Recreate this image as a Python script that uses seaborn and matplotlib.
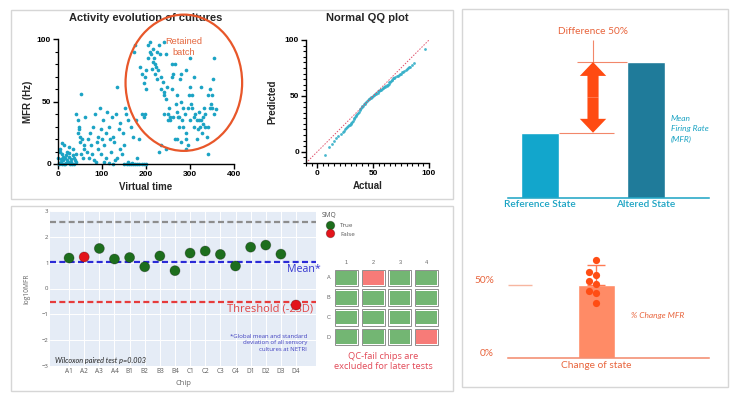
import numpy as np
import pandas as pd
import matplotlib
matplotlib.use("Agg")
import matplotlib.pyplot as plt
import seaborn as sns
from matplotlib.patches import Rectangle, Ellipse, FancyArrowPatch
from matplotlib.colors import ListedColormap
from matplotlib.ticker import MultipleLocator
from matplotlib.transforms import ScaledTranslation, blended_transform_factory

# ---------------------------------------------------------------- data
# Activity evolution of cultures (virtual time vs MFR in Hz)
virtual_time = [
    2, 4, 5, 6, 8, 10, 12, 14, 15, 18, 20, 22, 24, 25, 28, 30, 32, 35, 38, 40, 42, 3, 9, 16, 27, 36,
    1, 7, 11, 13, 19, 21, 26, 29, 33, 37,
    42, 45, 47, 48, 50, 52, 55, 58, 60, 45, 50, 53, 57,
    62, 65, 68, 70, 72, 75, 78, 80, 82, 85, 88, 90, 92, 95, 98, 100, 97, 86,
    102, 105, 108, 110, 112, 115, 118, 120, 122, 125, 128, 130, 132, 135, 138, 140, 142, 145, 148, 150, 105, 115, 125, 135,
    152, 155, 158, 160, 162, 165, 168, 170, 172, 175, 178, 180, 185, 190, 195, 198, 200, 165, 175, 185, 190, 195, 150, 157, 170, 180,
    186, 190, 195, 198, 200, 205, 205, 208, 210, 212, 215, 218, 220, 222, 225, 228, 230, 232, 235, 238, 240, 213, 220, 225, 200, 215, 235,
    240, 242, 245, 248, 250, 252, 255, 258, 260, 262, 265, 268, 270, 272, 275, 278, 280, 282, 285, 288,
    290, 292, 295, 298, 300, 302, 305, 308, 310, 312, 315, 318, 320, 322, 325, 328, 330, 332, 335, 338,
    340, 342, 345, 348, 350, 352, 355, 358, 245, 260, 270, 285, 295, 305, 315, 325, 335, 300, 290, 280,
    265, 245, 255, 275, 230, 250, 262, 270, 280, 290, 300, 310, 340, 350, 355, 320, 330, 345, 240, 235,
]
mfr_hz = [
    1, 10, 12, 4, 17, 8, 3, 0, 5, 1, 10, 2, 14, 6, 1, 4, 0, 12, 3, 2, 8, 0, 0, 0, 0, 0,
    5, 2, 6, 15, 7, 3, 9, 2, 7, 5,
    40, 35, 30, 28, 22, 56, 20, 15, 12, 25, 18, 8, 5,
    38, 10, 20, 5, 25, 15, 8, 30, 3, 40, 18, 12, 22, 45, 28, 20, 8, 2,
    35, 15, 25, 5, 42, 30, 20, 10, 38, 22, 18, 3, 40, 62, 28, 12, 33, 8, 25, 15, 2, 1, 0, 5,
    45, 40, 35, 2, 0, 30, 1, 22, 90, 95, 35, 5, 20, 40, 38, 40, 0, 0, 0, 0, 0, 0, 0, 0, 0, 0,
    78, 72, 65, 70, 75, 85, 95, 98, 90, 88, 92, 85, 80, 78, 90, 75, 95, 88, 70, 66, 98, 76, 72, 68, 60, 82, 60,
    58, 55, 52, 62, 40, 45, 35, 80, 70, 72, 80, 48, 42, 38, 30, 68, 50, 35, 30, 40,
    25, 20, 15, 55, 62, 48, 45, 38, 70, 40, 35, 28, 42, 30, 35, 25, 38, 45, 40, 22,
    8, 55, 60, 48, 45, 68, 85, 44, 88, 60, 55, 45, 45, 55, 20, 62, 30, 85, 75, 72,
    20, 12, 38, 38, 10, 35, 38, 20, 18, 12, 35, 30, 30, 55, 40, 35, 32, 45, 40, 15,
]

# Normal QQ plot
qq_actual = [
    7, 11, 13, 15, 17, 19, 21, 23, 25, 27, 28, 29, 30, 31, 32, 33, 34, 35, 36, 37,
    38, 39, 40, 41, 42, 43, 44, 45, 46, 47, 48, 49, 50, 51, 52, 53, 54, 55, 56, 57,
    58, 59, 60, 61, 62, 63, 64, 65, 66, 67, 68, 69, 70, 72, 73, 75, 77, 79, 81, 83,
    85, 87, 96,
    24, 26, 28.5, 30.5, 32.5, 34.5, 36.5, 38.5, 40.5, 42.5, 44.5, 46.5, 48.5, 50.5, 52.5,
    54.5, 56.5, 58.5, 60.5, 62.5, 64.5, 66.5, 68.5, 71, 74, 76, 78, 80, 82,
]
qq_predicted = [
    -3, 4, 7, 10, 12, 14, 16, 18, 20, 22, 23, 24, 25, 27, 28, 30, 31, 33, 34, 36,
    37, 39, 40, 41, 43, 44, 45, 46, 47, 48, 48, 49, 50, 51, 52, 52, 53, 54, 55, 55,
    56, 57, 58, 58, 59, 60, 61, 62, 63, 64, 66, 66, 67, 68, 69, 70, 71, 73, 75, 76,
    78, 79, 92,
    19, 21, 24, 26, 29, 32, 35, 38, 41, 43, 45.5, 47.5, 49, 51, 52.5,
    54, 55.5, 57, 58.5, 60, 62, 64, 66, 68, 70, 71, 72, 74, 76,
]

# Chip QC (log10 MFR per chip)
chips = ["A1", "A2", "A3", "A4", "B1", "B2", "B3", "B4",
         "C1", "C2", "C3", "C4", "D1", "D2", "D3", "D4"]
log10_mfr = [1.18, 1.22, 1.55, 1.14, 1.20, 0.84, 1.26, 0.69,
             1.37, 1.45, 1.32, 0.87, 1.60, 1.68, 1.33, -0.64]
smq = ["True", "False", "True", "True", "True", "True", "True", "True",
       "True", "True", "True", "True", "True", "True", "True", "False"]
global_upper = 2.58
global_mean = 1.04
threshold_2sd = -0.51

qc_rows = ["A", "B", "C", "D"]
qc_cols = ["1", "2", "3", "4"]
qc_pass = [[1, 0, 1, 1],
           [1, 1, 1, 1],
           [1, 1, 1, 1],
           [1, 1, 1, 0]]

# Schematic: reference vs altered state
states = ["Reference State", "Altered State"]
state_mfr = [48, 100]

# % change of MFR
change_label = ["Change of state"]
change_mean = [50]
change_err_up = [14]
change_points = [67, 57, 59, 51, 53, 44.5, 46, 38]

# ---------------------------------------------------------------- style
W, H = 738, 395
sns.set_theme(style="ticks")
plt.rcParams["font.family"] = ["Liberation Sans", "DejaVu Sans"]

fig = plt.figure(figsize=(W / 100, H / 100), dpi=100)


def px_axes(x0, y0, x1, y1):
    return fig.add_axes([x0 / W, 1 - y1 / H, (x1 - x0) / W, (y1 - y0) / H])


def ftext(x, y, s, **kw):
    return fig.text(x / W, 1 - y / H, s, **kw)


# panel frames
for (x0, y0, x1, y1) in [(11, 10, 453, 199), (11, 206, 453, 391), (462, 9, 728, 387)]:
    fig.patches.append(Rectangle((x0 / W, 1 - y1 / H), (x1 - x0) / W, (y1 - y0) / H,
                                 transform=fig.transFigure, fill=False,
                                 ec="#d6d6d6", lw=1.0))

TEAL = "#1ba3c4"


def prism_axes(ax):
    sns.despine(ax=ax)
    for s in ["left", "bottom"]:
        ax.spines[s].set_linewidth(1.0)
        ax.spines[s].set_color("black")
    ax.tick_params(which="major", length=3.5, width=1.0, labelsize=6, pad=1.5,
                   color="black", labelcolor="black")
    ax.tick_params(which="minor", length=2, width=0.8, color="black")
    for lbl in ax.get_xticklabels() + ax.get_yticklabels():
        lbl.set_fontweight("bold")


# ---------------------------------------------------------------- scatter
ax1 = px_axes(58, 39, 234, 164)
sns.scatterplot(x=virtual_time, y=mfr_hz, color=TEAL, s=7, linewidth=0,
                ax=ax1, clip_on=False)
ax1.set_xlim(0, 400)
ax1.set_ylim(0, 100)
ax1.set_xticks([0, 100, 200, 300, 400])
ax1.set_yticks([0, 50, 100])
ax1.yaxis.set_minor_locator(MultipleLocator(10))
prism_axes(ax1)
ax1.set_xlabel("Virtual time", fontsize=7, fontweight="bold", labelpad=3)
ax1.set_ylabel("MFR (Hz)", fontsize=7, fontweight="bold", labelpad=3)
ax1.text(0.5, 1 + 21 / 125, "Activity evolution of cultures", transform=ax1.transAxes,
         ha="center", va="center", fontsize=8, fontweight="bold")
ax1.add_patch(Ellipse((286, 65), 265, 109, fill=False, ec="#e8572a", lw=1.6,
                      clip_on=False, zorder=4))
ax1.text(286, 93.5, "Retained\nbatch", ha="center", va="center", fontsize=6.7,
         color="#e4673f", linespacing=1.25)

# ---------------------------------------------------------------- QQ plot
ax2 = px_axes(306, 40, 429, 163)
sns.scatterplot(x=qq_actual, y=qq_predicted, color="#35afc8", s=4, linewidth=0,
                alpha=0.9, ax=ax2)
ax2.axline((0, 0), slope=1, color="#e0506a", lw=0.7, ls=(0, (1.5, 1.5)), zorder=1)
ax2.set_xlim(-10, 100)
ax2.set_ylim(-10, 100)
ax2.set_xticks([0, 50, 100])
ax2.set_yticks([0, 50, 100])
ax2.xaxis.set_minor_locator(MultipleLocator(5))
ax2.yaxis.set_minor_locator(MultipleLocator(5))
prism_axes(ax2)
ax2.set_xlabel("Actual", fontsize=7, fontweight="bold", labelpad=3)
ax2.set_ylabel("Predicted", fontsize=7, fontweight="bold", labelpad=5)
ax2.text(0.5, 1 + 22 / 123, "Normal QQ plot", transform=ax2.transAxes,
         ha="center", va="center", fontsize=8, fontweight="bold")

# ---------------------------------------------------------------- chip QC plot
OS = ["Open Sans", "DejaVu Sans"]
ax3 = px_axes(50, 211, 316, 366)
ax3.set_facecolor("#e5ecf6")
df_chip = pd.DataFrame({"Chip": chips, "log10MFR": log10_mfr, "SMQ": smq})
ax3.axhline(global_upper, color="#8d8d8d", ls=(0, (2.7, 1.5)), lw=1.6, zorder=2)
ax3.axhline(global_mean, color="#2b2bd6", ls=(0, (2.7, 1.5)), lw=1.6, zorder=2)
ax3.axhline(threshold_2sd, color="#e63b3b", ls=(0, (2.7, 1.5)), lw=1.6, zorder=2)
sns.scatterplot(data=df_chip, x="Chip", y="log10MFR", hue="SMQ",
                hue_order=["True", "False"],
                palette={"True": "#1d6e1d", "False": "#e3141b"},
                s=52, edgecolor=(0, 0, 0, 0.3), linewidth=0.6, ax=ax3, zorder=6,
                clip_on=False)
ax3.set_xlim(-1.26, 16.32)
ax3.set_ylim(-3, 3)
ax3.set_yticks([-3, -2, -1, 0, 1, 2, 3])
ax3.grid(True, color="white", lw=0.7)
ax3.set_axisbelow(True)
for s in ax3.spines.values():
    s.set_visible(False)
ax3.tick_params(axis="both", length=0, labelsize=4.7, labelcolor="#5a5a5a")
ax3.tick_params(axis="x", pad=1.5)
ax3.tick_params(axis="y", pad=1, labelsize=4.3)
for lbl in ax3.get_xticklabels() + ax3.get_yticklabels():
    lbl.set_fontfamily(OS)
ax3.set_xlabel("Chip", fontsize=5.5, color="#666666", labelpad=3.5, fontfamily=OS)
ax3.set_ylabel("log10MFR", fontsize=4.8, color="#666666", labelpad=8, fontfamily=OS)
sns.move_legend(ax3, "upper left", bbox_to_anchor=((322 - 50) / 266, 1 - 1 / 155),
                frameon=False, title="SMQ", fontsize=4.5, title_fontsize=4.8,
                handlelength=2.6, handletextpad=0.3, labelspacing=0.55,
                borderpad=0, borderaxespad=0, markerscale=0.85)
leg = ax3.get_legend()
leg._legend_box.align = "left"
leg.get_title().set_color("#555555")
leg.get_title().set_fontfamily(OS)
for t in leg.get_texts():
    t.set_color("#555555")
    t.set_fontfamily(OS)

trx = blended_transform_factory(ax3.transAxes, ax3.transData)
ax3.text((321 - 50) / 266, 0.72, "Mean*", transform=trx, ha="right", va="center",
         fontsize=7.7, color="#3535d0", fontfamily=OS, zorder=3)
ax3.text((313 - 50) / 266, -0.8, "Threshold (-2SD)", transform=trx, ha="right",
         va="center", fontsize=8, color="#e24545", fontfamily=OS, zorder=3)
ax3.text((307 - 50) / 266, -2.1,
         "*Global mean and standard\ndeviation of all sensory\ncultures at NETRI",
         transform=trx, ha="right", va="center", fontsize=4.3, color="#4040c0",
         fontfamily=OS, linespacing=1.4)
ax3.text((55 - 50) / 266, -2.8, "Wilcoxon paired test p=0.003", transform=trx,
         ha="left", va="center", fontsize=5.2, style="italic", color="#222222",
         fontfamily=["Lato", "DejaVu Sans"])

# ---------------------------------------------------------------- QC heatmap
ax4 = px_axes(333, 268, 440, 347)
qc_df = pd.DataFrame(qc_pass, index=qc_rows, columns=qc_cols)
sns.heatmap(qc_df, cmap=ListedColormap(["#f77b78", "#73b673"]), vmin=0, vmax=1,
            cbar=False, linewidths=2.9, linecolor="white", ax=ax4)
ax4.xaxis.tick_top()
ax4.tick_params(length=0, labelsize=4, labelcolor="#666666", pad=2)
ax4.set_yticklabels(qc_rows, rotation=0)
ax4.set_xticklabels(qc_cols, rotation=0)
for i in range(len(qc_rows)):
    for j in range(len(qc_cols)):
        ax4.add_patch(Rectangle((j + 0.07, i + 0.08), 0.86, 0.84, fill=False,
                                ec="#8f8f8f", lw=0.7))
ftext(383, 361.5, "QC-fail chips are\nexcluded for later tests", ha="center",
      va="center", fontsize=6.7, color="#e24a58", fontfamily=OS, linespacing=1.25)

# ---------------------------------------------------------------- schematic bars
LATO = ["Lato", "DejaVu Sans"]
ORANGE_TXT = "#e8643c"
ORANGE_LINE = "#f2876a"
ax5 = px_axes(508, 20, 709, 198)
sns.barplot(x=states, y=state_mfr, hue=states, palette=["#12a6cc", "#1f7b9a"],
            width=0.35, saturation=1, legend=False, ax=ax5)
ax5.set_xlim(-0.302, 1.594)
ax5.set_ylim(0, 130.9)
sns.despine(ax=ax5, left=True)
ax5.spines["bottom"].set_color("#1aa3c3")
ax5.spines["bottom"].set_linewidth(1.1)
ax5.set_yticks([])
ax5.set_ylabel("")
ax5.tick_params(axis="x", length=0, pad=1.5, labelsize=7.3, labelcolor="#1aa3c3")
for lbl in ax5.get_xticklabels():
    lbl.set_fontfamily(LATO)
    lbl.set_fontweight("semibold")
ax5.hlines(state_mfr[1], 0.35, 1 - 0.175, color=ORANGE_LINE, lw=0.8)
ax5.hlines(state_mfr[0], 0.175, 0.70, color=ORANGE_LINE, lw=0.8)
ax5.vlines(0.5, state_mfr[1], 116, color=ORANGE_LINE, lw=0.8)
mid = (state_mfr[0] + state_mfr[1]) / 2
for end in state_mfr:
    ax5.add_patch(FancyArrowPatch((0.5, mid), (0.5, end),
                                  arrowstyle="simple,head_length=1.0,head_width=1.9,tail_width=0.8",
                                  mutation_scale=10, color="#ff4b12", lw=0,
                                  shrinkA=0, shrinkB=0, zorder=5))
ax5.text(0.5, 122.8, "Difference 50%", ha="center", va="center", fontsize=7.3,
         color=ORANGE_TXT, fontfamily=LATO, clip_on=False)
ax5.text(1.236, 50.7, "Mean\nFiring Rate\n(MFR)", ha="left", va="center",
         fontsize=6, style="italic", color="#1aa3c3", fontfamily=LATO,
         linespacing=1.55)

# ---------------------------------------------------------------- % change bar
ax6 = px_axes(508, 240, 709, 358)
sns.barplot(x=change_label, y=change_mean, color="#ff8b66", width=0.37,
            saturation=1, errorbar=None, ax=ax6)
ax6.errorbar(x=[0], y=change_mean, yerr=[[0], change_err_up], fmt="none",
             ecolor="#ff7a52", elinewidth=1, capsize=6.5, capthick=1, zorder=3)
sns.swarmplot(x=change_label * len(change_points), y=change_points,
              color="#ff4d14", size=5.2, ax=ax6, zorder=4)
ax6.set_xlim(-0.88, 1.13)
ax6.set_ylim(0, 80.8)
sns.despine(ax=ax6, left=True)
ax6.spines["bottom"].set_color(ORANGE_LINE)
ax6.spines["bottom"].set_linewidth(1.1)
ax6.set_yticks([0, 50])
ax6.set_yticklabels(["0%", "50%"])
ax6.set_ylabel("")
ax6.tick_params(axis="y", direction="in", length=17, width=1, color="#f7b6a0",
                pad=10, labelsize=7.3, labelcolor=ORANGE_TXT)
ax6.yaxis.get_major_ticks()[0].tick1line.set_visible(False)
ax6.tick_params(axis="x", length=0, pad=2.5, labelsize=7.3, labelcolor=ORANGE_TXT)
off = ScaledTranslation(0, 0.05, fig.dpi_scale_trans)
for lbl in ax6.get_yticklabels():
    lbl.set_transform(lbl.get_transform() + off)
    lbl.set_fontfamily(LATO)
for lbl in ax6.get_xticklabels():
    lbl.set_fontfamily(LATO)
ax6.text(0.35, 28.8, "% Change MFR", ha="left", va="center", fontsize=6,
         style="italic", color=ORANGE_TXT, fontfamily=LATO)

fig.savefig("out.png", dpi=100)
